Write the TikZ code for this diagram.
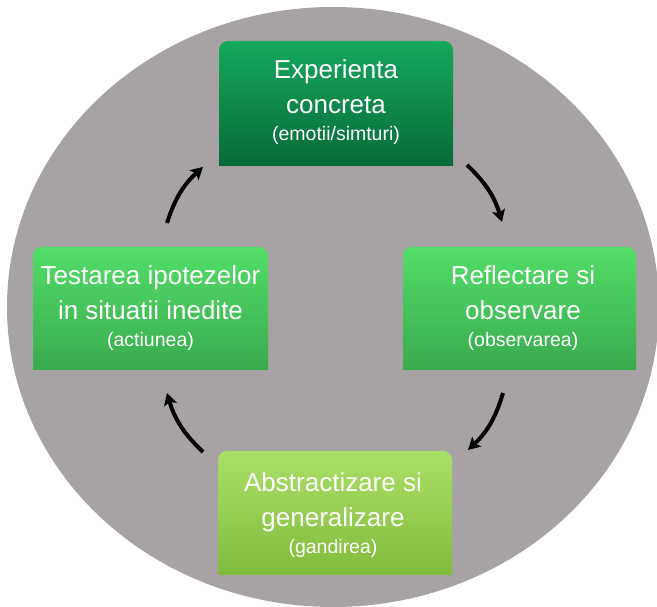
\documentclass[tikz,border=0pt]{standalone}
\usepackage{fontspec}
\setmainfont{Liberation Sans}
\usetikzlibrary{arrows.meta,calc}
\definecolor{bggrey}{RGB}{167,163,165}
\definecolor{topA}{RGB}{20,168,94}
\definecolor{topB}{RGB}{8,106,56}
\definecolor{sideA}{RGB}{82,222,104}
\definecolor{sideB}{RGB}{58,170,78}
\definecolor{botA}{RGB}{170,224,104}
\definecolor{botB}{RGB}{128,188,60}
\tikzset{
  boxframe/.style={inner sep=0pt, outer sep=0pt},
  maintext/.style={text=white, inner sep=0pt, font=\fontsize{26}{30}\selectfont},
  subtext/.style={text=white, inner sep=0pt, font=\fontsize{19.5}{23}\selectfont},
  conn/.style={line width=4pt, -{Stealth[length=12pt,width=13pt,inset=2.5pt]}, bend left=15}
}
\newcommand{\greenbox}[3]{%
  \shade[top color=#2, bottom color=#3]
    (#1.south west) -- (#1.south east) -- ([yshift=-9pt]#1.north east)
    arc[start angle=0, end angle=90, radius=9pt]
    -- ([xshift=9pt]#1.north west)
    arc[start angle=90, end angle=180, radius=9pt] -- cycle;}
\newcommand{\boxlines}[6]{%
  \node[maintext, anchor=base] (#1a) at ([xshift=#5, yshift=-38-#6]#1.north) {#2};
  \node[maintext, anchor=base] (#1b) at ([xshift=#5, yshift=-73-#6]#1.north) {#3};
  \node[subtext, anchor=base] (#1c) at ([xshift=#5, yshift=-100-#6]#1.north) {#4};}
\begin{document}
\begin{tikzpicture}[x=1pt, y=1pt]
\useasboundingbox (0,0) rectangle (657,607);
\fill[white] (0,0) rectangle (657,607);
\begin{scope}
  \clip (0,0) rectangle (657,607);
  \fill[bggrey] (333,300) ellipse [x radius=326, y radius=300];
\end{scope}

\node[boxframe, minimum width=234pt, minimum height=125pt] (top) at (336,503.5) {};
\node[boxframe, minimum width=235pt, minimum height=123pt] (left) at (150.5,298.5) {};
\node[boxframe, minimum width=233pt, minimum height=123pt] (right) at (519.5,298.5) {};
\node[boxframe, minimum width=234pt, minimum height=124pt] (bottom) at (335,94) {};

\greenbox{top}{topA}{topB}
\greenbox{left}{sideA}{sideB}
\greenbox{right}{sideA}{sideB}
\greenbox{bottom}{botA}{botB}

\boxlines{top}{Experienta}{concreta}{(emotii/simturi)}{0pt}{0pt}
\boxlines{left}{Testarea ipotezelor}{in situatii inedite}{(actiunea)}{0pt}{0pt}
\boxlines{right}{Reflectare si}{observare}{(observarea)}{3.5pt}{0pt}
\boxlines{bottom}{Abstractizare si}{generalizare}{(gandirea)}{-2pt}{3pt}

\coordinate (a1s) at (167,384);
\coordinate (a1e) at (203,440);
\coordinate (a2s) at (467,442);
\coordinate (a2e) at (502,385);
\coordinate (a3s) at (503,214);
\coordinate (a3e) at (468,157);
\coordinate (a4s) at (203,155);
\coordinate (a4e) at (167,214);

\draw[conn] (a1s) to (a1e);
\draw[conn] (a2s) to (a2e);
\draw[conn] (a3s) to (a3e);
\draw[conn] (a4s) to (a4e);
\end{tikzpicture}
\end{document}
